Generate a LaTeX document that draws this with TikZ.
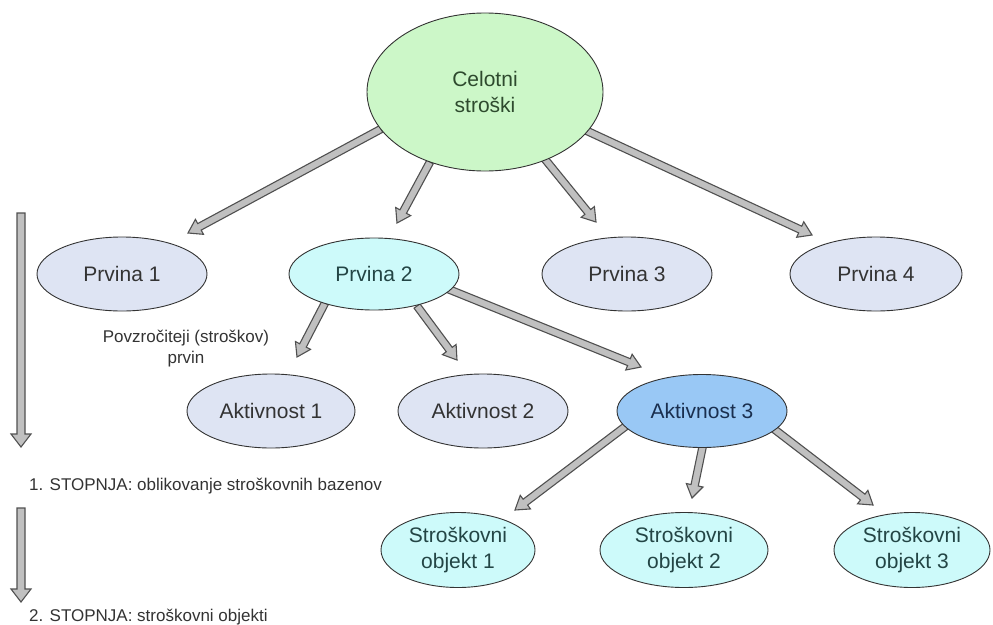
\documentclass[tikz,border=0pt]{standalone}
\usepackage{fontspec}
\setmainfont{Liberation Sans}
\usetikzlibrary{shapes.geometric,calc,backgrounds}
\definecolor{gfill}{RGB}{204,247,200}
\definecolor{lfill}{RGB}{222,228,243}
\definecolor{cfill}{RGB}{205,250,250}
\definecolor{bfill}{RGB}{153,200,245}
\definecolor{tgray}{RGB}{51,51,51}
\definecolor{tgreen}{RGB}{46,74,46}
\definecolor{tteal}{RGB}{35,69,69}
\definecolor{tnavy}{RGB}{26,47,79}
\definecolor{afill}{RGB}{192,192,192}
\definecolor{aline}{RGB}{80,80,80}
\tikzset{
  ell/.style={ellipse, draw=black!80, line width=0.9pt, inner sep=0pt, align=center,
    font=\fontsize{21}{26}\selectfont, text=tgray},
  lbl/.style={font=\fontsize{17}{21}\selectfont, text=tgray, inner sep=0pt, align=center},
  fatarr/.style={fill=afill, draw=aline, line width=1.1pt, line join=miter},
}
\newcommand\fatarr[5]{%
  \draw[fatarr] ($(#1)!#3!90:(#2)$)
   -- ($($(#2)!#5!(#1)$)!#3!90:(#2)$)
   -- ($($(#2)!#5!(#1)$)!#4!90:(#2)$)
   -- (#2)
   -- ($($(#2)!#5!(#1)$)!#4!-90:(#2)$)
   -- ($($(#2)!#5!(#1)$)!#3!-90:(#2)$)
   -- ($(#1)!#3!-90:(#2)$) -- cycle;}
\begin{document}
\begin{tikzpicture}[x=1pt,y=-1pt]
\useasboundingbox (0,0) rectangle (993,624);
% nodes
\node[ell, fill=gfill, text=tgreen, minimum width=236, minimum height=158] (cel) at (485,92) {Celotni\\stroški};
\node[ell, fill=lfill, minimum width=170, minimum height=74] (p1) at (122,274) {Prvina 1};
\node[ell, fill=cfill, text=tteal, minimum width=170, minimum height=72] (p2) at (374,274) {Prvina 2};
\node[ell, fill=lfill, minimum width=170, minimum height=74] (p3) at (627,274) {Prvina 3};
\node[ell, fill=lfill, minimum width=172, minimum height=74] (p4) at (876,274) {Prvina 4};
\node[ell, fill=lfill, minimum width=168, minimum height=74] (a1) at (271,411) {Aktivnost 1};
\node[ell, fill=lfill, minimum width=170, minimum height=74] (a2) at (483,411) {Aktivnost 2};
\node[ell, fill=bfill, text=tnavy, minimum width=170, minimum height=73] (a3) at (702,411) {Aktivnost 3};
\node[ell, fill=cfill, text=tteal, minimum width=154, minimum height=75] (o1) at (458,550) {Stroškovni\\objekt 1};
\node[ell, fill=cfill, text=tteal, minimum width=168, minimum height=75] (o2) at (684,550) {Stroškovni\\objekt 2};
\node[ell, fill=cfill, text=tteal, minimum width=156, minimum height=75] (o3) at (912,550) {Stroškovni\\objekt 3};
% labels
\node[lbl] (povz) at (186,349) {Povzročiteji (stroškov)\\prvin};
\node[lbl, anchor=base west] (st1) at (29,490) {1. STOPNJA: oblikovanje stroškovnih bazenov};
\node[lbl, anchor=base west] (st2) at (29,621) {2. STOPNJA: stroškovni objekti};
% connector end points
\coordinate (s1) at ($(cel)+(-104,37)$);  \coordinate (e1) at ($(p1)+(66,-41)$);
\coordinate (s2) at ($(cel)+(-55,70)$);   \coordinate (e2) at ($(p2)+(23,-51)$);
\coordinate (s3) at ($(cel)+(59,66)$);    \coordinate (e3) at ($(p3)+(-31,-52)$);
\coordinate (s4) at ($(cel)+(100,38)$);   \coordinate (e4) at ($(p4)+(-64,-39)$);
\coordinate (s5) at ($(p2)+(-49,29)$);    \coordinate (e5) at ($(a1)+(26,-54)$);
\coordinate (s6) at ($(p2)+(43,32)$);     \coordinate (e6) at ($(a2)+(-26,-51)$);
\coordinate (s7) at ($(p2)+(74,15)$);     \coordinate (e7) at ($(a3)+(-61,-44)$);
\coordinate (s8) at ($(a3)+(-76,15)$);    \coordinate (e8) at ($(o1)+(57,-40)$);
\coordinate (s9) at ($(a3)+(1,34)$);      \coordinate (e9) at ($(o2)+(8,-52)$);
\coordinate (s10) at ($(a3)+(72,18)$);    \coordinate (e10) at ($(o3)+(-39,-45)$);
\coordinate (v1s) at (21,213); \coordinate (v1e) at (21,447);
\coordinate (v2s) at (21,508); \coordinate (v2e) at (21,602);
\begin{pgfonlayer}{background}
\fatarr{s1}{e1}{3.7pt}{8.5pt}{13pt}
\fatarr{s2}{e2}{3.7pt}{8.5pt}{13pt}
\fatarr{s3}{e3}{3.7pt}{8.5pt}{13pt}
\fatarr{s4}{e4}{3.7pt}{8.5pt}{13pt}
\fatarr{s5}{e5}{3.7pt}{8.5pt}{13pt}
\fatarr{s6}{e6}{3.7pt}{8.5pt}{13pt}
\fatarr{s7}{e7}{3.7pt}{8.5pt}{13pt}
\fatarr{s8}{e8}{3.7pt}{8.5pt}{13pt}
\fatarr{s9}{e9}{3.7pt}{8.5pt}{13pt}
\fatarr{s10}{e10}{3.7pt}{8.5pt}{13pt}
\fatarr{v1s}{v1e}{4pt}{10pt}{13pt}
\fatarr{v2s}{v2e}{4pt}{10pt}{13pt}
\end{pgfonlayer}
\end{tikzpicture}
\end{document}
